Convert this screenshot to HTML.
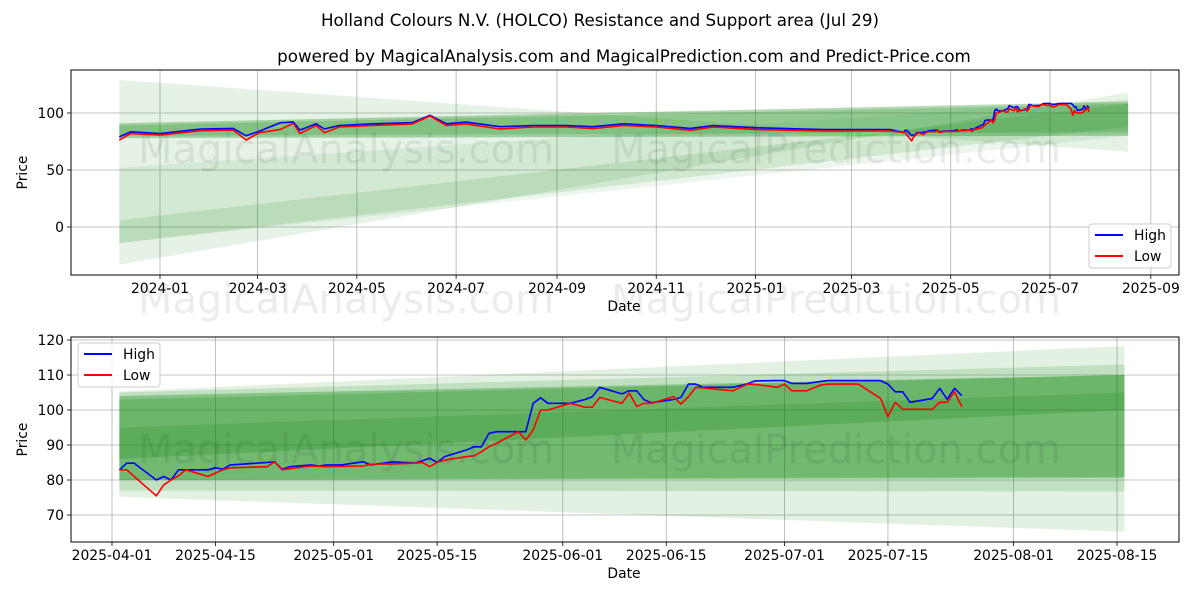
<!DOCTYPE html>
<html><head><meta charset="utf-8"><style>
body{margin:0;background:#fff}
svg{display:block;font-family:"DejaVu Sans","Liberation Sans",sans-serif}
</style></head><body>
<svg id="chart" width="1200" height="600" viewBox="0 0 1200 600" xmlns="http://www.w3.org/2000/svg">
<defs>
<clipPath id="clipTop"><rect x="71" y="70" width="1108" height="205"/></clipPath>
<clipPath id="clipBot"><rect x="71" y="337" width="1108" height="205"/></clipPath>
</defs>
<rect x="0" y="0" width="1200" height="600" fill="#fff"/>
<text x="600" y="26" text-anchor="middle" font-size="16.7" fill="#000">Holland Colours N.V. (HOLCO) Resistance and Support area (Jul 29)</text>
<text x="624" y="62" text-anchor="middle" font-size="16.7" fill="#000">powered by MagicalAnalysis.com and MagicalPrediction.com and Predict-Price.com</text>
<g id="topAx"></g>
<g id="botAx"></g>
<g opacity="0.07" font-size="40" fill="#000">
<text x="346" y="163" text-anchor="middle">MagicalAnalysis.com</text>
<text x="836" y="163" text-anchor="middle">MagicalPrediction.com</text>
<text x="346" y="313" text-anchor="middle">MagicalAnalysis.com</text>
<text x="836" y="313" text-anchor="middle">MagicalPrediction.com</text>
<text x="346" y="463" text-anchor="middle">MagicalAnalysis.com</text>
<text x="836" y="463" text-anchor="middle">MagicalPrediction.com</text>
</g>
</svg>
<script>
// ---- data: early history (days since 2024-01-01) ----
const earlyDays = [-25,-18,0,25,45,53,61,74,82,86,96,101,110,131,155,166,176,188,209,229,250,266,285,305,326,340,367,408,449];
const earlyHigh = [79,83.5,82,86,86.5,80,84,91.5,92,85,90.5,86,89,90.5,91.5,98,90.5,92,88,89,89,88,90.5,89,86.5,89,87,85.5,85.5];
const earlyLow = [76.3,82,80.6,84.5,85,76.3,82.7,85.6,91,82,89,82.7,87.7,89,90.4,97.4,89,90.4,86,87.7,87.7,86.3,89,87.7,84.8,87.7,85.4,84.2,84.2];
// ---- data: recent (days since 2025-04-01) ----
const recentDays = [1,2,3,6,7,8,9,10,13,14,15,16,21,22,23,24,27,28,29,31,34,35,38,41,42,43,44,45,48,49,50,51,52,55,56,57,58,59,62,64,65,66,69,70,71,72,73,76,77,78,79,80,84,86,87,90,91,92,94,96,97,101,104,105,106,107,108,111,112,113,114,115];
const recentHigh = [82.9,84.8,84.8,80,81,80,82.9,82.9,82.9,83.5,83.1,84.3,85,85.2,83.1,83.8,84.3,84,84.3,84.3,85.2,84.3,85.2,84.8,85.5,86.2,85,86.7,88.6,89.5,89.5,93.3,93.8,93.8,93.8,101.9,103.5,101.9,101.9,103,103.8,106.5,104.6,105.5,105.5,102.9,102.1,103,103.6,107.4,107.4,106.5,106.5,107.5,108.3,108.4,108.4,107.6,107.6,108.2,108.4,108.4,108.4,107.4,105.2,105.2,102.2,103.3,106.2,103.1,106.2,104.1];
const recentLow = [82.9,82.9,81,75.5,78.6,80,81.2,82.9,81,82,82.9,83.5,83.8,85.2,82.9,83.2,84,83.9,83.8,83.9,84,84.5,84.6,84.8,85,83.8,85.1,85.7,86.7,86.9,88.1,89.5,90.5,93.8,91.4,94.3,100,100,101.9,100.8,100.8,103.6,101.9,104.8,101,101.9,101.9,103.8,101.7,103.8,106.5,106.3,105.5,107.4,107.3,106.5,107.4,105.5,105.5,107.2,107.4,107.4,103.3,98.1,102.2,100.2,100.2,100.2,102.2,102.2,105.2,100.9];
// bands: [startTop, startBottom, endTop, endBottom, opacity]
const topBandStart = -25, topBandEnd = 595;
const topBands = [[129,-33,66,118,0.1],[52,-14,112,80,0.07],[6,-14,108,88,0.12],[91,78,110,80,0.3],[89,80,108,83,0.18]];
const botBandStart = 1, botBandEnd = 137;
const botBands = [[105.3,75.2,118.3,65.2,0.11],[105,77,113,76.7,0.15],[104,80,110,80.6,0.3],[103,86,110,100,0.2],[95,80,105,81,0.15]];
const topXTicks = ["2024-01","2024-03","2024-05","2024-07","2024-09","2024-11","2025-01","2025-03","2025-05","2025-07","2025-09"];
const topXTickDays = [0,60,121,182,244,305,366,425,486,547,609];
const topYTicks = [0,50,100];
const botXTicks = ["2025-04-01","2025-04-15","2025-05-01","2025-05-15","2025-06-01","2025-06-15","2025-07-01","2025-07-15","2025-08-01","2025-08-15"];
const botXTickDays = [0,14,30,44,61,75,91,105,122,136];
const botYTicks = [70,80,90,100,110,120];

const NS="http://www.w3.org/2000/svg";
function mk(tag,attrs,parent){const e=document.createElementNS(NS,tag);for(const k in attrs)e.setAttribute(k,attrs[k]);parent.appendChild(e);return e;}

const tx = d => 160 + d*1.627;
const ty = v => 227 - v*1.14;
const bx = d => 112 + d*7.39;
const by = v => 410 - (v-100)*3.5;

function drawAxes(g, L, T, W, H, xf, yf, xTicks, xTickDays, yTicks, clip, bands, bStart, bEnd, hiD, hi, loD, lo, legendPos, prefix){
  xTickDays.forEach((d,i)=>{
    const x=xf(d);
    const gl=mk('line',{x1:x,x2:x,y1:T,y2:T+H,stroke:'#b0b0b0','stroke-width':0.8},g);
    
    
    const tk=mk('line',{x1:x,x2:x,y1:T+H,y2:T+H+4,stroke:'#000','stroke-width':0.8},g);
    
    
    const t=mk('text',{x:x,y:T+H+18,'text-anchor':'middle','font-size':13.9},g);
    t.textContent=xTicks[i];
    
    
  });
  yTicks.forEach(v=>{
    const y=yf(v);
    const gl=mk('line',{x1:L,x2:L+W,y1:y,y2:y,stroke:'#b0b0b0','stroke-width':0.8},g);
    
    
    const tk=mk('line',{x1:L-4,x2:L,y1:y,y2:y,stroke:'#000','stroke-width':0.8},g);
    
    
    const t=mk('text',{x:L-7,y:y+5,'text-anchor':'end','font-size':13.9},g);
    t.textContent=v;
    
    
  });
  const cg=mk('g',{'clip-path':'url(#'+clip+')'},g);
  
  
  bands.forEach(b=>{
    const x1=xf(bStart), x2=xf(bEnd);
    const p=mk('polygon',{points:`${x1},${yf(b[0])} ${x2},${yf(b[2])} ${x2},${yf(b[3])} ${x1},${yf(b[1])}`,fill:'#008000','fill-opacity':b[4]},cg);
    
    
  });
  const mkLine=(days,vals,color,name)=>{
    const pts=days.map((d,i)=>xf(d).toFixed(1)+','+yf(vals[i]).toFixed(1)).join(' ');
    const pl=mk('polyline',{points:pts,fill:'none',stroke:color,'stroke-width':1.6,'stroke-linejoin':'round'},cg);
    
    
  };
  mkLine(hiD,hi,'#0000ff',prefix+'-high-line');
  mkLine(loD,lo,'#ff0000',prefix+'-low-line');
  const fr=mk('rect',{x:L,y:T,width:W,height:H,fill:'none',stroke:'#000','stroke-width':1},g);
  
  
  const yl=mk('text',{x:0,y:0,'text-anchor':'middle','font-size':13.9,transform:`translate(27,${T+H/2}) rotate(-90)`},g);
  yl.textContent='Price';
  
  
  const xl=mk('text',{x:624,y:T+H+36,'text-anchor':'middle','font-size':13.9},g);
  xl.textContent='Date';
  
  
  const lg=mk('g',{},g);
  
  
  const [lx,ly]=legendPos;
  mk('rect',{x:lx,y:ly,width:82,height:44,rx:3,fill:'#fff','fill-opacity':0.85,stroke:'#ccc'},lg);
  [['High','#0000ff'],['Low','#ff0000']].forEach((e,i)=>{
    const eg=mk('g',{},lg);
    
    
    mk('line',{x1:lx+6,x2:lx+34,y1:ly+11+i*21,y2:ly+11+i*21,stroke:e[1],'stroke-width':2},eg);
    const t=mk('text',{x:lx+45,y:ly+16+i*21,'font-size':13.9},eg);
    t.textContent=e[0];
  });
}

const off = 456; // 2025-04-01 in days since 2024-01-01
const allDays = earlyDays.concat(recentDays.map(d=>d+off));
drawAxes(document.getElementById('topAx'),71,70,1108,205,tx,ty,topXTicks,topXTickDays,topYTicks,'clipTop',
  topBands,topBandStart,topBandEnd,
  allDays, earlyHigh.concat(recentHigh),
  allDays, earlyLow.concat(recentLow),[1089,224],'top');
drawAxes(document.getElementById('botAx'),71,337,1108,205,bx,by,botXTicks,botXTickDays,botYTicks,'clipBot',
  botBands,botBandStart,botBandEnd,
  recentDays,recentHigh,recentDays,recentLow,[78,343],'bottom');
</script>
</body></html>
